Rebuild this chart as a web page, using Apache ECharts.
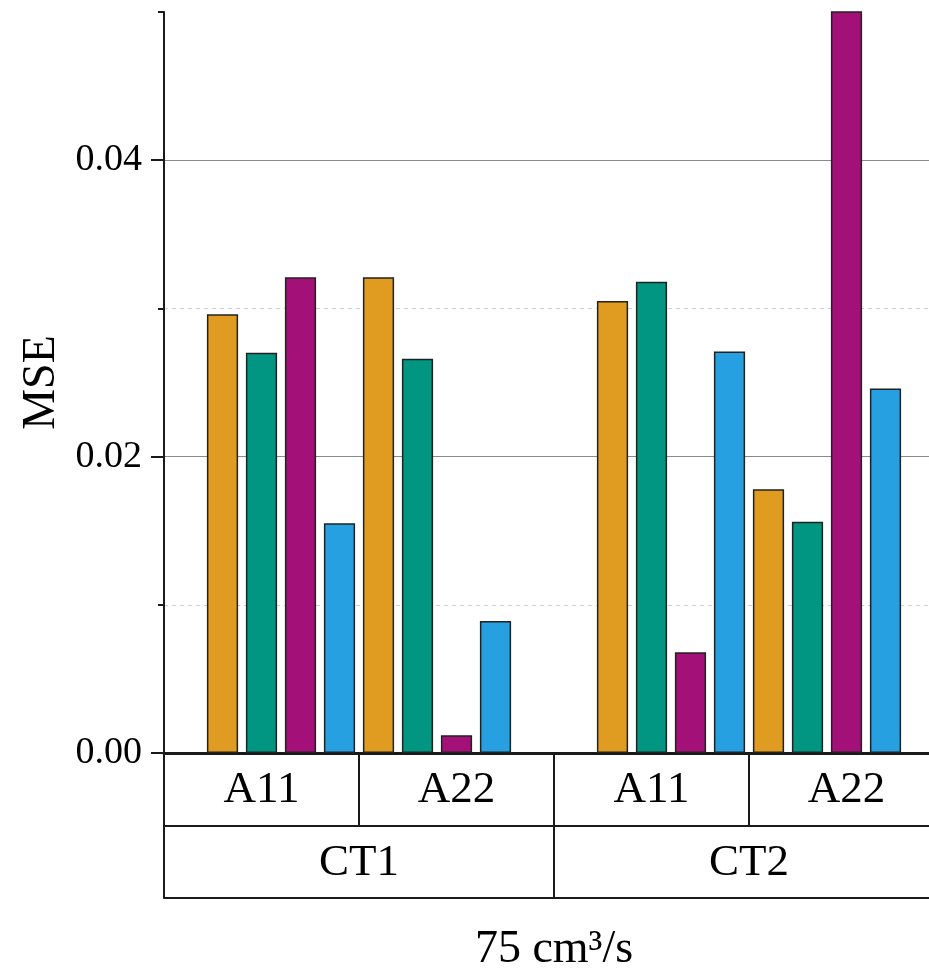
<!DOCTYPE html>
<html>
<head>
<meta charset="utf-8">
<script src="https://cdn.jsdelivr.net/npm/echarts@6/dist/echarts.min.js"></script>
<style>
  html, body { margin: 0; padding: 0; background: #fff; }
  #chart { width: 929px; height: 968px; }
</style>
</head>
<body>
<div id="chart"></div>
<script>
// groups along the x axis, left to right
var groups = ['A11', 'A22', 'A11', 'A22'];
var types = ['CT1', 'CT2'];
var xTitle = '75 cm³/s';
var yTitle = 'MSE';

// MSE per group (CT1 A11, CT1 A22, CT2 A11, CT2 A22)
var orangeVals = [0.0296, 0.0321, 0.0305, 0.0178];
var greenVals  = [0.0270, 0.0266, 0.0318, 0.0156];
var purpleVals = [0.0321, 0.0012, 0.0068, 0.0520];
var blueVals   = [0.0155, 0.0089, 0.0271, 0.0246];

var yTicks = [0, 0.02, 0.04];

var colors = ['#E09C20', '#009682', '#A31077', '#26A0E0'];
var allVals = [orangeVals, greenVals, purpleVals, blueVals];

// 5 slots per group; bars sit in 4 of them
var slotsPerGroup = 5;
var slots = [];
for (var i = 0; i < groups.length * slotsPerGroup; i++) slots.push(String(i));

function slotOf(g, k) {
    var start = g * slotsPerGroup + (g % 2 === 0 ? 1 : 0);
    return start + k;
}

var font = 'Liberation Serif, Times New Roman, serif';
var lineCol = '#1a1a1a';

var series = allVals.map(function (vals, k) {
    var data = slots.map(function () { return '-'; });
    vals.forEach(function (v, g) { data[slotOf(g, k)] = v; });
    return {
        name: 'S' + (k + 1),
        type: 'bar',
        xAxisIndex: 0,
        yAxisIndex: 0,
        data: data,
        barWidth: '80%',
        barGap: '-100%',
        itemStyle: { color: colors[k], borderColor: '#222', borderWidth: 1.5 }
    };
});

var myChart = echarts.init(document.getElementById('chart'));
var option = {
    animation: false,
    grid: { left: 164, right: -15, top: 12, bottom: 215, containLabel: false, outerBoundsMode: 'none' },
    xAxis: [
        {
            type: 'category',
            data: slots,
            show: false
        },
        {
            type: 'category',
            data: groups,
            position: 'bottom',
            offset: 0,
            axisLine: { lineStyle: { color: lineCol, width: 3 } },
            axisTick: { show: true, length: 73, lineStyle: { color: lineCol, width: 2 } },
            axisLabel: { color: '#000', fontFamily: font, fontSize: 45, margin: 15 },
            splitLine: { show: false }
        },
        {
            type: 'category',
            data: types,
            position: 'bottom',
            offset: 73,
            axisLine: { lineStyle: { color: lineCol, width: 2 } },
            axisTick: { show: true, length: 72, lineStyle: { color: lineCol, width: 2 } },
            axisLabel: { color: '#000', fontFamily: font, fontSize: 45, margin: 15 },
            splitLine: { show: false }
        },
        {
            type: 'category',
            data: [''],
            position: 'bottom',
            offset: 145,
            axisLine: { lineStyle: { color: lineCol, width: 2 } },
            axisTick: { show: false },
            axisLabel: { show: false },
            name: xTitle,
            nameLocation: 'middle',
            nameGap: 29,
            nameTextStyle: { color: '#000', fontFamily: font, fontSize: 46 }
        }
    ],
    yAxis: [
        {
            type: 'value',
            min: 0,
            max: 0.05,
            interval: 0.01,
            position: 'left',
            axisLine: { show: true, lineStyle: { color: lineCol, width: 2 } },
            axisTick: { show: true, length: 6, lineStyle: { color: lineCol, width: 2 } },
            axisLabel: { show: false },
            splitLine: {
                show: true, showMinLine: false, showMaxLine: false,
                // minor lines only; the major ones come from the second axis
                lineStyle: { color: ['#cfcfcf', 'rgba(0,0,0,0)'], width: 1, type: [4, 4] }
            }
        },
        {
            type: 'value',
            min: 0,
            max: 0.05,
            interval: 0.02,
            position: 'left',
            axisLine: { show: false },
            axisTick: { show: true, length: 13, customValues: yTicks, lineStyle: { color: lineCol, width: 2 } },
            axisLabel: {
                customValues: yTicks,
                color: '#000', fontFamily: font, fontSize: 38, margin: 22,
                formatter: function (v) { return v.toFixed(2); }
            },
            splitLine: {
                show: true, showMinLine: false,
                lineStyle: { color: '#8a8a8a', width: 1 }
            },
            name: yTitle,
            nameLocation: 'middle',
            nameGap: 97,
            nameTextStyle: { color: '#000', fontFamily: font, fontSize: 46 }
        }
    ],
    series: series
};
myChart.setOption(option);
</script>
</body>
</html>
